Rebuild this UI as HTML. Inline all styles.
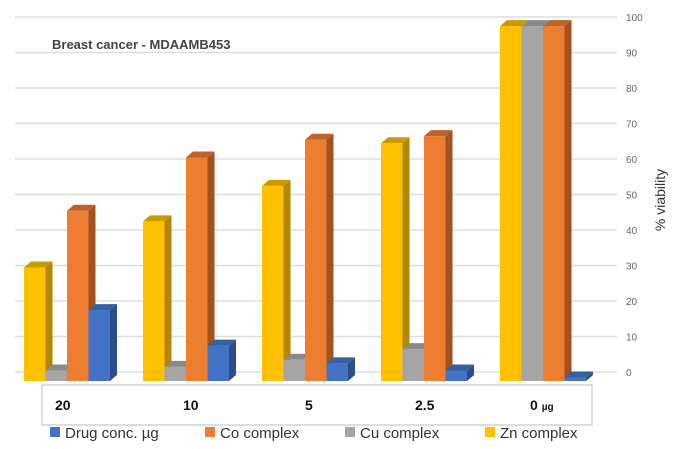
<!DOCTYPE html>
<html><head><meta charset="utf-8"><style>
body{margin:0;background:#fff;}
svg{font-family:"Liberation Sans",sans-serif;}
</style></head><body>
<svg width="674" height="444" viewBox="0 0 674 444">
<g id="grid"></g>
<g id="bars"></g>
<text x="52" y="49" font-size="13" fill="#444" font-weight="bold">Breast cancer  - MDAAMB453</text>
<text transform="translate(665,200) rotate(-90)" text-anchor="middle" font-size="14" fill="#333">% viability</text>
<rect x="42" y="385" width="550" height="40" fill="#fff" stroke="#bbb"/>
<g id="cats" font-size="14" font-weight="bold" fill="#111"></g>
<g id="legend" font-size="15" fill="#333"></g>
</svg>
<script>
const categories=["20","10","5","2.5","0"];
const zn=[30,43,53,65,98];
const cu=[1,2,4,7,98];
const co=[46,61,66,67,98];
const drug=[18,8,3,1,-1];
const ticks=[0,10,20,30,40,50,60,70,80,90,100];
const NS="http://www.w3.org/2000/svg";
function mk(t,a,p){const e=document.createElementNS(NS,t);for(const k in a)e.setAttribute(k,a[k]);p.appendChild(e);return e;}
const gy=v=>372-v*3.55;
const fy=v=>374-v*3.55;
const G=document.getElementById('grid');
ticks.forEach(t=>{
 const l=mk('line',{x1:15,x2:617,y1:gy(t),y2:gy(t),stroke:'#ddd','stroke-width':1.5},G);
 
 
 const tx=mk('text',{x:626,y:gy(t)+4,'font-size':10,fill:'#666'},G);
 tx.textContent=t;
 
 
});
const series=[[zn,'#ffc000','#b38700','#c99a00','zn'],[cu,'#a5a5a5','#7a7a7a','#8a8a8a','cu'],[co,'#ed7d31','#a4521d','#c0612a','co'],[drug,'#4472c4','#2c4c8a','#36609f','drug']];
const B=document.getElementById('bars');
const bw=21.5,dx=7,dy=6,base=381;
const labOff=[31,40,43,34,30];
categories.forEach((c,i)=>{
 const x0=24+i*119;
 series.forEach((s,j)=>{
  const v=s[0][i];const x=x0+j*bw;
  let top=Math.min(fy(v),base-1.5);
  const g=mk('g',{},B);
  
  
  mk('polygon',{points:`${x+bw},${top} ${x+bw+dx},${top-dy} ${x+bw+dx},${base-dy} ${x+bw},${base}`,fill:s[2]},g);
  mk('polygon',{points:`${x},${top} ${x+dx},${top-dy} ${x+bw+dx},${top-dy} ${x+bw},${top}`,fill:s[3]},g);
  mk('rect',{x:x,y:top,width:bw,height:base-top,fill:s[1]},g);
 });
 const t=mk('text',{x:x0+labOff[i],y:410},document.getElementById('cats'));
 t.textContent=c;
 
 
 if(i==4){const u=mk('tspan',{'font-size':10,dx:4},t);u.textContent='µg';}
});
const L=document.getElementById('legend');
[['Drug conc. µg','#4472c4',50],['Co complex','#ed7d31',205],['Cu complex','#a5a5a5',345],['Zn complex','#ffc000',485]].forEach(e=>{
 const g=mk('g',{},L);
 
 
 mk('rect',{x:e[2],y:427,width:10,height:10,fill:e[1]},g);
 const t=mk('text',{x:e[2]+15,y:438},g);t.textContent=e[0];
});
</script>
</body></html>
